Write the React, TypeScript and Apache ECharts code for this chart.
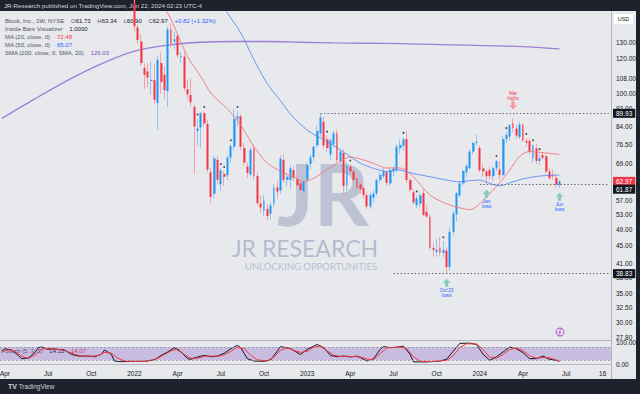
import React, { useEffect, useRef } from "react";
import * as echarts from "echarts";

// ---------- categories (weekly bars) ----------
const START_WEEK = "2021-03-29";
const WEEK_COUNT = 184;
const FIRST_CANDLE_WEEK = 40; // 2022-01-03

const tickDates = [
  "2021-04-05", "2021-07-05", "2021-10-04", "2022-01-03", "2022-04-04", "2022-07-04",
  "2022-10-03", "2023-01-02", "2023-04-03", "2023-07-03", "2023-10-02", "2024-01-01",
  "2024-04-01", "2024-07-01", "2024-09-16",
];
const tickLabels = ["Apr", "Jul", "Oct", "2022", "Apr", "Jul", "Oct", "2023", "Apr", "Jul", "Oct", "2024", "Apr", "Jul", "16"];

// ---------- OHLC (weeks 40..168) ----------
const opens = [
  161, 141, 131, 114, 112, 106.5, 107, 95, 117, 110,
  101, 139.5, 131, 135, 120.5, 121, 102, 99, 93, 82,
  83.5, 90, 85, 66, 59, 70.5, 62, 65.5, 65, 71.3,
  75.5, 87.5, 88.5, 75, 68, 65.3, 74.9, 64.7, 56.1, 54,
  54.5, 53.2, 56, 61, 60, 70.4, 63.4, 63.5, 66.8, 63.8,
  62.3, 59.8, 63.5, 69, 71.5, 76, 81, 86, 78.5, 72.5,
  76.5, 81, 70, 73, 61.5, 68, 66.3, 64, 62, 60.8,
  58.6, 55.2, 57.8, 59.1, 63.4, 64.7, 66, 62.3, 66.3, 66.8,
  74.9, 75.8, 78.6, 63.4, 59.5, 55.6, 56, 59.2, 53.7, 52.4,
  44.4, 43.5, 44.5, 43.3, 43.8, 40.2, 48.3, 53, 58.5, 62.3,
  66, 67.5, 73.6, 77, 75, 67.4, 66.3, 66.8, 64.7, 67.4,
  67, 65.1, 78.6, 79.6, 85.4, 83, 79.5, 84.6, 77.8, 77.8,
  71, 74.9, 70.1, 72.3, 71.8, 66.3, 65.1, 64.1, 61.73,
];
const highs = [
  163, 143, 136, 117, 117, 118, 116, 122, 123.5, 115,
  142, 144, 138, 137, 124, 124, 107, 108, 94, 87.5,
  90.5, 91, 87, 67.5, 72, 72, 67.5, 66.5, 72, 76.5,
  92, 91, 89.5, 77, 69.5, 75.5, 76.5, 66, 58.5, 58.5,
  56, 56.5, 62, 63, 72, 72.5, 65.5, 68.5, 68, 66,
  63.5, 63.5, 69.5, 72.5, 76, 84.5, 89.93, 88.5, 80, 79,
  82, 82.5, 74.5, 74.5, 69.5, 68.8, 67, 65, 63, 61.5,
  59.5, 59.5, 60, 64, 66, 67.5, 66.5, 67.5, 68, 76.5,
  78.5, 79.5, 82, 64, 60.5, 58.5, 59.5, 60.5, 55.5, 53,
  45.5, 46.5, 47, 46, 44.5, 49.5, 54, 59.5, 63, 67,
  69, 74.5, 77.5, 80.5, 76, 69, 67, 68, 68, 70.4,
  70, 80, 81.5, 85, 87.5, 84.5, 86, 85.5, 79, 78.5,
  76.5, 76.5, 73, 73.5, 72.5, 67.5, 67, 65.5, 63.34,
];
const lows = [
  138, 129.5, 115, 102, 103, 99, 94.5, 82.5, 99.5, 96.5,
  93, 127, 126, 120, 117, 101, 97, 93, 65.5, 76,
  75, 84, 66, 56, 57.5, 62, 60, 61.5, 63.5, 69.5,
  74, 84, 74, 68.5, 64, 64.5, 63.5, 55.5, 53.5, 52.5,
  51.3, 51.5, 55, 57.5, 59, 62.5, 61.5, 60.5, 63, 61,
  58.5, 58.8, 62.5, 67, 70, 75, 79.5, 74.5, 73.5, 70.5,
  75, 69.5, 68, 58, 60, 65.5, 62.5, 60, 59, 57.5,
  54.5, 54.5, 56.5, 58.5, 62.5, 64, 61.5, 61.5, 64.5, 66,
  73, 74, 62.5, 59.5, 55.8, 54.8, 55, 52.5, 52, 44,
  42.5, 42.5, 42.5, 42.3, 38.83, 39.5, 47.5, 51, 58, 61.5,
  64.5, 67, 72.5, 76, 66, 64.5, 61.9, 63.5, 63, 66.5,
  63.5, 64.5, 77, 78, 81.5, 78.5, 78.5, 77.5, 75.5, 72.5,
  69.5, 69, 68.5, 70.5, 65.5, 63.5, 63.5, 61, 60.9,
];
const closes = [
  142, 132, 117, 110, 108.5, 107.2, 96.5, 119, 106, 101.5,
  139.5, 129.5, 132.5, 122, 121.5, 102.5, 99.3, 95.3, 84, 83,
  90, 85.3, 67, 58, 71, 63.5, 66.7, 64.5, 71.3, 75.7,
  87.3, 88.5, 75.5, 69.5, 65.8, 74.3, 64.8, 56.2, 54.9, 57,
  52.5, 55.5, 61, 59.7, 70.9, 63.4, 64.5, 67.4, 64.2, 61.7,
  60.2, 62.8, 68.6, 71.4, 75.5, 82, 88, 76, 75, 78,
  81, 70.4, 73.6, 61.5, 68.6, 66.3, 63.4, 60.8, 60.5, 58.6,
  55.2, 58.6, 59.1, 63.4, 65.1, 66.3, 62.5, 66.8, 67.4, 75.5,
  76.2, 78.5, 63.4, 60.2, 56.4, 57.6, 58.5, 52.8, 52.4, 44.4,
  44, 44, 43.3, 44, 40.2, 48.3, 53.2, 59.2, 62.3, 66.5,
  68.2, 73.6, 77, 77.4, 66.8, 66.3, 64.7, 64.7, 67.4, 70,
  65.1, 78.6, 80.3, 84.5, 83.3, 80, 84.8, 78, 77.2, 73.6,
  76, 70.1, 71, 71.2, 66.3, 64, 64.7, 61.9, 62.97,
];

const insideBarWeeks = [59, 61, 66, 67, 69, 71, 98, 105, 121, 125, 133, 149, 152, 158, 160, 162];

// ---------- moving averages (week, value) ----------
const ma20Points = [
  [44, 175], [50, 152], [53, 136], [56, 121], [60, 109], [63, 100], [68, 92], [72, 84.5],
  [76, 75.5], [80, 69.3], [84, 66.4], [88, 64.4], [91, 62.9], [94, 64], [98, 67], [102, 70],
  [105, 71.5], [108, 70.8], [112, 69.2], [116, 67.5], [119, 67.6], [121, 67.2], [124, 64.5],
  [129, 58.6], [134, 56], [138, 54.8], [141, 54.3], [144, 56], [148, 60.2], [150, 62.5],
  [153, 66.8], [155, 70.4], [157, 72.8], [159, 73.6], [162, 73.3], [165, 72.9], [168, 72.48],
];
const ma50Points = [
  [60, 190], [64, 168], [68, 152], [72, 137], [76, 119], [80, 105], [84, 96], [87, 89.5],
  [92, 82.4], [96, 79], [100, 76], [104, 72.5], [108, 69.3], [112, 67.4], [116, 66.3],
  [119, 66.9], [124, 65.6], [129, 64.5], [134, 63.4], [138, 62.8], [141, 63.2], [144, 63.4],
  [147, 62.3], [150, 61.5], [153, 62.5], [157, 63.8], [161, 64.6], [165, 65], [168, 65.07],
];
const sma200Points = [
  [0, 87.5], [10, 97], [20, 107], [30, 116.5], [40, 124.5], [50, 128.5], [60, 130.5],
  [70, 131], [80, 131], [90, 130.5], [100, 130], [110, 129.8], [120, 129.5], [130, 129],
  [140, 128.5], [150, 128], [160, 127.2], [168, 126.03],
];

// ---------- stochastic (week, value) ----------
const stochK = [
  [0, 61], [1, 72], [3, 66], [5, 41], [6, 26], [8, 29], [10, 54], [11, 77], [12, 80], [14, 69],
  [15, 72], [17, 69], [19, 66], [21, 46], [23, 38], [26, 38], [28, 35], [30, 46], [31, 66],
  [33, 46], [34, 15], [36, 12], [40, 14], [43, 14], [46, 20], [48, 41], [50, 57], [52, 77],
  [54, 57], [56, 26], [57, 23], [59, 34], [61, 41], [63, 35], [65, 38], [67, 51], [69, 72],
  [71, 88], [72, 77], [74, 26], [76, 15], [79, 14], [81, 20], [83, 61], [84, 82], [87, 72],
  [90, 45], [92, 69], [95, 92], [97, 77], [99, 41], [101, 35], [103, 38], [105, 34], [107, 38],
  [108, 31], [110, 15], [112, 26], [114, 69], [115, 82], [117, 77], [119, 79], [121, 84],
  [123, 46], [124, 11], [128, 11], [132, 15], [134, 23], [136, 61], [138, 97], [141, 98],
  [143, 92], [145, 46], [147, 18], [149, 35], [151, 57], [153, 80], [155, 72], [157, 54],
  [159, 26], [161, 26], [163, 38], [165, 23], [167, 18], [168, 14.15],
];
const stochD = [
  [0, 55], [2, 68], [4, 60], [6, 38], [8, 27], [10, 42], [12, 70], [14, 74], [16, 70], [18, 68],
  [20, 58], [22, 46], [24, 39], [27, 37], [29, 40], [31, 55], [33, 52], [35, 28], [37, 15],
  [41, 13], [44, 15], [47, 28], [49, 45], [51, 62], [53, 72], [55, 45], [57, 28], [59, 28],
  [61, 37], [63, 38], [65, 37], [67, 44], [69, 60], [71, 78], [73, 72], [75, 42], [77, 20],
  [80, 16], [82, 35], [84, 65], [86, 76], [88, 64], [90, 55], [92, 60], [94, 80], [96, 84],
  [98, 62], [100, 42], [102, 36], [104, 37], [106, 36], [108, 34], [110, 24], [112, 21],
  [114, 50], [116, 76], [118, 78], [120, 80], [122, 72], [124, 35], [126, 14], [130, 13],
  [134, 18], [136, 40], [138, 78], [140, 95], [143, 94], [145, 68], [147, 32], [149, 28],
  [151, 45], [153, 68], [155, 75], [157, 63], [159, 40], [161, 28], [163, 32], [165, 30],
  [167, 20], [168, 14.07],
];

// ---------- axis labels & levels ----------
const priceTicks = [130, 120, 108, 100, 92, 84, 76.5, 69, 57, 53, 49, 45, 41, 38, 35, 32.5, 30, 27.8];
const priceBoxes = [89.93, 62.97, 38.83];
const lowerBox = [61.87]; // displaced below the last-price box, as on the reference
const lastPrice = 62.97;
const levelLines = [
  { value: 89.93, fromWeek: 96 },
  { value: 61.87, fromWeek: 144 },
  { value: 38.83, fromWeek: 118 },
];
const annotations = [
  { week: 154, price: 87.5, text: "Mar\nhighs", dir: "down" },
  { week: 146, price: 61.9, text: "Jan\nlows", dir: "up" },
  { week: 168, price: 60.9, text: "Jun\nlows", dir: "up" },
  { week: 134, price: 38.83, text: "Oct'23\nlows", dir: "up" },
];

const PANEL = "#e8e9ed";
const DARK = "#1e222d";
const UP = "#2196f3";
const DOWN = "#f23645";
const FONT = "Liberation Sans";

export default function App() {
  const ref = useRef<HTMLDivElement>(null);
  useEffect(() => {
    if (!ref.current) return;
    const chart = echarts.init(ref.current, undefined, { renderer: "svg" });
    const DAY = 86400000;
    const start = Date.parse(START_WEEK + "T00:00:00Z");
    const categories = Array.from({ length: WEEK_COUNT }, (_, i) =>
      new Date(start + i * 7 * DAY).toISOString().slice(0, 10)
    );
    const tickMap = new Map(tickDates.map((d, k) => [d, tickLabels[k]]));
    const wickData = opens.map((o, k) => [FIRST_CANDLE_WEEK + k, o, closes[k], lows[k], highs[k]]);
    const bodyData = opens.map((o, k) => [
      FIRST_CANDLE_WEEK + k, o, closes[k], Math.min(o, closes[k]), Math.max(o, closes[k]),
    ]);
    const insideData = insideBarWeeks.map((w) => [w, highs[w - FIRST_CANDLE_WEEK]]);
    const lastIdx = WEEK_COUNT - 1;

    const upArrow = "path://M5,0 L10,5 L7,5 L7,10 L3,10 L3,5 L0,5 Z";
    const downArrow = "path://M3,0 L7,0 L7,5 L10,5 L5,10 L0,5 L3,5 Z";

    const legendRich = {
      g: { fill: "#50535e", fontSize: 6, fontFamily: FONT },
      k: { fill: "#131722", fontSize: 6, fontFamily: FONT },
      b: { fill: "#2962ff", fontSize: 6, fontFamily: FONT },
      r: { fill: "#f23645", fontSize: 6, fontFamily: FONT },
      p: { fill: "#7e57c2", fontSize: 6, fontFamily: FONT },
    };
    const boxRich = {
      b: { backgroundColor: "#131722", color: "#ffffff", fontSize: 6.5, padding: [1, 3, 1, 3], fontFamily: FONT },
      r: { backgroundColor: "#f23645", color: "#ffffff", fontSize: 6.5, padding: [1, 3, 1, 3], fontFamily: FONT },
    };
    const hiddenAxis = {
      type: "log", gridIndex: 0, min: 27.43, max: 152.9, position: "right",
      axisLine: { show: false }, axisTick: { show: false }, splitLine: { show: false },
    };

    const option: any = {
      animation: false,
      backgroundColor: DARK,
      textStyle: { fontFamily: FONT },
      grid: [
        { left: 0, top: 12, width: 611, height: 328, containLabel: false, outerBoundsMode: "none" },
        { left: 0, top: 340, width: 611, height: 26, containLabel: false, outerBoundsMode: "none" },
      ],
      xAxis: [
        {
          type: "category", gridIndex: 0, data: categories, boundaryGap: true,
          axisLine: { show: true, lineStyle: { color: "#b2b5be", width: 1 } },
          axisTick: { show: false }, axisLabel: { show: false }, splitLine: { show: false },
        },
        {
          type: "category", gridIndex: 1, data: categories, boundaryGap: true,
          axisLine: { show: true, lineStyle: { color: "#b2b5be", width: 1 } },
          axisTick: { show: false }, splitLine: { show: false },
          axisLabel: {
            interval: (_: number, v: string) => tickMap.has(v),
            formatter: (v: string) => tickMap.get(v) || "",
            fontSize: 6.5, color: "#131722", margin: 4, fontFamily: FONT,
          },
        },
      ],
      yAxis: [
        {
          type: "log", gridIndex: 0, min: 27.43, max: 152.9, position: "right",
          axisLine: { show: true, lineStyle: { color: "#b2b5be" } },
          axisTick: { show: false }, splitLine: { show: false },
          axisLabel: {
            customValues: priceTicks, formatter: (v: number) => v.toFixed(2),
            fontSize: 6.5, color: "#131722", margin: 5, fontFamily: FONT,
          },
        },
        {
          ...hiddenAxis, z: 10,
          axisLabel: {
            customValues: priceBoxes,
            formatter: (v: number) => (v === lastPrice ? `{r|${v.toFixed(2)}}` : `{b|${v.toFixed(2)}}`),
            margin: 2, rich: boxRich,
          },
        },
        {
          type: "value", gridIndex: 1, min: -8, max: 112.5, position: "right",
          axisLine: { show: true, lineStyle: { color: "#b2b5be" } },
          axisTick: { show: false }, splitLine: { show: false },
          axisLabel: {
            customValues: [0, 100], formatter: (v: number) => v.toFixed(2),
            fontSize: 6.5, color: "#131722", margin: 5, fontFamily: FONT,
          },
        },
        {
          ...hiddenAxis, z: 11,
          axisLabel: {
            customValues: lowerBox,
            formatter: (v: number) => `{b|${v.toFixed(2)}}`,
            verticalAlign: "top", margin: 2, rich: boxRich,
          },
        },
      ],
      series: [
        {
          type: "line", name: "SMA200", xAxisIndex: 0, yAxisIndex: 0, data: sma200Points,
          showSymbol: false, smooth: 0.3, lineStyle: { color: "#9c7fd6", width: 1.3 }, z: 1,
        },
        {
          type: "candlestick", name: "wicks", xAxisIndex: 0, yAxisIndex: 0, data: wickData,
          encode: { x: 0, y: [1, 2, 3, 4] }, barWidth: 1,
          itemStyle: { color: "transparent", color0: "transparent", borderColor: "#8ec5f5", borderColor0: "#f4a2a8", borderWidth: 1 },
          z: 2,
        },
        {
          type: "candlestick", name: "bodies", xAxisIndex: 0, yAxisIndex: 0, data: bodyData,
          encode: { x: 0, y: [1, 2, 3, 4] }, barWidth: 2.4,
          itemStyle: { color: UP, color0: DOWN, borderColor: UP, borderColor0: DOWN, borderWidth: 0 },
          z: 3,
          markLine: {
            silent: true, symbol: "none", label: { show: false },
            lineStyle: { type: [1.5, 2], color: "#6a6d78", width: 1 },
            data: levelLines.map((l) => [
              { coord: [l.fromWeek, l.value] },
              { coord: [lastIdx, l.value] },
            ]),
          },
          markPoint: {
            silent: true,
            data: annotations.map((a) => ({
              coord: [a.week, a.price],
              symbol: a.dir === "up" ? upArrow : downArrow,
              symbolSize: [8, 8],
              symbolOffset: [0, a.dir === "up" ? 9 : -13],
              itemStyle: { color: a.dir === "up" ? "#86cbbd" : "#f59a9e" },
              label: {
                show: true,
                position: a.dir === "up" ? "bottom" : "top",
                distance: 1,
                formatter: a.text,
                color: a.dir === "up" ? "#2962ff" : "#f23645",
                fontSize: 4.8, lineHeight: 5, fontFamily: FONT,
              },
            })),
          },
        },
        {
          type: "line", name: "MA20", xAxisIndex: 0, yAxisIndex: 0, data: ma20Points,
          showSymbol: false, smooth: 0.3, lineStyle: { color: "#f4757d", width: 0.9 }, z: 4,
        },
        {
          type: "line", name: "MA50", xAxisIndex: 0, yAxisIndex: 0, data: ma50Points,
          showSymbol: false, smooth: 0.3, lineStyle: { color: "#5a8cf0", width: 0.9 }, z: 4,
        },
        {
          type: "scatter", name: "inside", xAxisIndex: 0, yAxisIndex: 0, data: insideData,
          symbol: "circle", symbolSize: 1.8, symbolOffset: [0, -4], itemStyle: { color: "#131722" }, z: 5,
        },
        {
          type: "line", name: "%K", xAxisIndex: 1, yAxisIndex: 2, data: stochK,
          showSymbol: false, lineStyle: { color: "#131722", width: 1 }, z: 4,
          markArea: {
            silent: true, itemStyle: { color: "rgba(126,87,194,0.3)" },
            data: [[{ yAxis: 20 }, { yAxis: 80 }]],
          },
          markLine: {
            silent: true, symbol: "none", label: { show: false },
            lineStyle: { type: [2, 2], color: "#9598a1", width: 0.8 },
            data: [{ yAxis: 20 }, { yAxis: 80 }],
          },
        },
        {
          type: "line", name: "%D", xAxisIndex: 1, yAxisIndex: 2, data: stochD,
          showSymbol: false, lineStyle: { color: "#f23645", width: 1 }, z: 5,
        },
      ],
      graphic: [
        { type: "rect", z: -10, silent: true, shape: { x: 0, y: 11, width: 636, height: 368 }, style: { fill: PANEL } },
        { type: "line", silent: true, shape: { x1: 611.5, y1: 366, x2: 611.5, y2: 379 }, style: { stroke: "#b2b5be", lineWidth: 1 } },
        {
          type: "text", x: 4, y: 2, silent: true,
          style: { text: "JR-Research published on TradingView.com, Jun 22, 2024 02:23 UTC-4", fill: "#d1d4dc", fontSize: 6.2, fontFamily: FONT },
        },
        {
          type: "text", x: 8, y: 383, silent: true,
          style: { text: "{l|TV} TradingView", fill: "#d1d4dc", fontSize: 6.5, fontFamily: FONT, rich: { l: { fontWeight: "bold", fontSize: 7, fill: "#d1d4dc" } } },
        },
        { type: "rect", silent: true, shape: { x: 614, y: 14, width: 19, height: 10, r: 1 }, style: { fill: "#ffffff" } },
        { type: "text", silent: true, x: 623.5, y: 19, style: { text: "USD", fill: "#131722", fontSize: 5.5, fontFamily: FONT, align: "center", verticalAlign: "middle" } },
        {
          type: "text", silent: true, x: 5, y: 15,
          style: { text: "{g|Block, Inc., 1W, NYSE}  {g|O}{k|61.73}  {g|H}{k|63.34}  {g|L}{k|60.90}  {g|C}{k|62.97}  {b|+0.82 (+1.32%)}", rich: legendRich },
        },
        { type: "text", silent: true, x: 5, y: 23, style: { text: "{g|Inside Bars Visualizer}  {k|1.0000}", rich: legendRich } },
        { type: "text", silent: true, x: 5, y: 31, style: { text: "{g|MA (20, close, 0)}  {r|72.48}", rich: legendRich } },
        { type: "text", silent: true, x: 5, y: 39, style: { text: "{g|MA (50, close, 0)}  {b|65.07}", rich: legendRich } },
        { type: "text", silent: true, x: 5, y: 47, style: { text: "{g|SMA (200, close, 0, SMA, 20)}  {p|126.03}", rich: legendRich } },
        { type: "text", silent: true, x: 5, y: 345, style: { text: "{g|Stoch (5, 3, 3)}  {k|14.15}  {r|14.07}", rich: legendRich } },
        {
          type: "text", silent: true, x: 323, y: 192, z: 0,
          style: { text: "JR", fill: "rgba(128,142,180,0.42)", fontSize: 86, fontWeight: "bold", fontFamily: "Lato", align: "center", verticalAlign: "middle" },
        },
        {
          type: "text", silent: true, x: 305, y: 248, z: 0,
          style: { text: "JR RESEARCH", fill: "rgba(128,142,180,0.5)", fontSize: 23, fontFamily: "Lato", align: "center", verticalAlign: "middle" },
        },
        {
          type: "text", silent: true, x: 311, y: 266, z: 0,
          style: { text: "UNLOCKING OPPORTUNITIES", fill: "rgba(128,142,180,0.5)", fontSize: 9.5, fontFamily: "Lato", align: "center", verticalAlign: "middle" },
        },
        { type: "circle", silent: true, shape: { cx: 560, cy: 332, r: 4 }, style: { fill: "none", stroke: "#b04dc9", lineWidth: 1 } },
        { type: "polyline", silent: true, shape: { points: [[561, 329], [558.5, 332.5], [561, 332], [558.5, 335]] }, style: { fill: "none", stroke: "#b04dc9", lineWidth: 0.8 } },
      ],
    };
    chart.setOption(option);
    return () => chart.dispose();
  }, []);
  return <div ref={ref} style={{ position: "fixed", left: 0, top: 0, width: 640, height: 394 }} />;
}
